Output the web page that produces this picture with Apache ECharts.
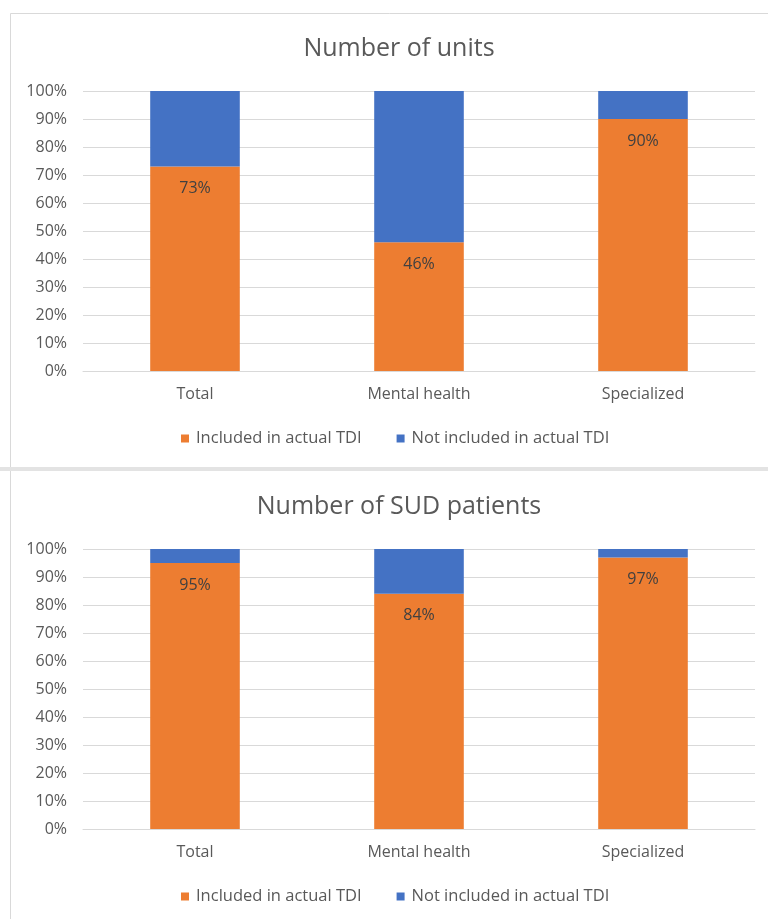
<!DOCTYPE html>
<html>
<head>
<meta charset="utf-8">
<script src="https://cdn.jsdelivr.net/npm/echarts@6/dist/echarts.min.js"></script>
<style>
  html, body { margin: 0; padding: 0; background: #fff; }
  #chart { width: 768px; height: 919px; }
</style>
</head>
<body>
<div id="chart"></div>
<script>
// Share of units and of SUD patients covered by the actual TDI, per service type
const categories = ['Total', 'Mental health', 'Specialized'];
const seriesNames = ['Included in actual TDI', 'Not included in actual TDI'];
const unitsIncluded = [73, 46, 90];
const unitsNotIncluded = [27, 54, 10];
const patientsIncluded = [95, 84, 97];
const patientsNotIncluded = [5, 16, 3];
const yTicks = [0, 10, 20, 30, 40, 50, 60, 70, 80, 90, 100];
const titles = ['Number of units', 'Number of SUD patients'];

const FONT = '"Open Sans", "Liberation Sans", sans-serif';
const TEXT = '#595959';
const ORANGE = '#ED7D31';
const BLUE = '#4472C4';
const GRIDLINE = '#D9D9D9';

const panels = [
  { title: titles[0], inc: unitsIncluded, exc: unitsNotIncluded, top: 91, titleTop: 31, legendTop: 425 },
  { title: titles[1], inc: patientsIncluded, exc: patientsNotIncluded, top: 549, titleTop: 489, legendTop: 883 }
];

const option = {
  backgroundColor: '#fff',
  animation: false,
  textStyle: { fontFamily: FONT, color: TEXT },
  title: panels.map(p => ({
    text: p.title,
    left: 394, textAlign: 'center', top: p.titleTop,
    textStyle: { fontFamily: FONT, fontSize: 25, fontWeight: 'normal', color: TEXT }
  })),
  legend: panels.map(p => ({
    data: seriesNames,
    top: p.legendTop, left: 176,
    icon: 'rect', itemWidth: 8, itemHeight: 8, itemGap: 35,
    textStyle: { fontFamily: FONT, fontSize: 16.5, color: TEXT, padding: [0, 0, 0, 2] }
  })),
  grid: panels.map(p => ({ left: 83, width: 672, top: p.top, height: 280, containLabel: false })),
  xAxis: panels.map((p, i) => ({
    type: 'category', gridIndex: i, data: categories,
    axisLine: { lineStyle: { color: GRIDLINE } },
    axisTick: { show: false },
    axisLabel: { fontFamily: FONT, fontSize: 16, color: TEXT, margin: 15 }
  })),
  yAxis: panels.map((p, i) => ({
    type: 'value', gridIndex: i, min: yTicks[0], max: yTicks[yTicks.length - 1], interval: 10,
    axisLine: { show: false }, axisTick: { show: false },
    axisLabel: { fontFamily: FONT, fontSize: 16, color: TEXT, margin: 16, formatter: '{value}%' },
    splitLine: { lineStyle: { color: GRIDLINE, width: 1 } }
  })),
  series: panels.flatMap((p, i) => [
    {
      name: seriesNames[0], type: 'bar', stack: 's' + i, xAxisIndex: i, yAxisIndex: i,
      data: p.inc, barCategoryGap: '60%', itemStyle: { color: ORANGE },
      label: { show: true, position: 'insideTop', distance: 14, formatter: '{c}%',
        fontFamily: FONT, fontSize: 16, color: '#404040' }
    },
    {
      name: seriesNames[1], type: 'bar', stack: 's' + i, xAxisIndex: i, yAxisIndex: i,
      data: p.exc, barCategoryGap: '60%', itemStyle: { color: BLUE }
    }
  ]),
  graphic: [
    // Frame of the upper panel
    { type: 'rect', shape: { x: 10.5, y: 13.5, width: 770, height: 454 }, style: { fill: 'none', stroke: '#D9D9D9', lineWidth: 1 }, silent: true },
    // Divider between panels
    { type: 'rect', shape: { x: 0, y: 467, width: 768, height: 4 }, style: { fill: '#E3E3E3' }, silent: true },
    // Left edge of the lower panel
    { type: 'line', shape: { x1: 10.5, y1: 471, x2: 10.5, y2: 919 }, style: { stroke: '#D9D9D9', lineWidth: 1 }, silent: true }
  ]
};

const chart = echarts.init(document.getElementById('chart'));
chart.setOption(option);
</script>
</body>
</html>
